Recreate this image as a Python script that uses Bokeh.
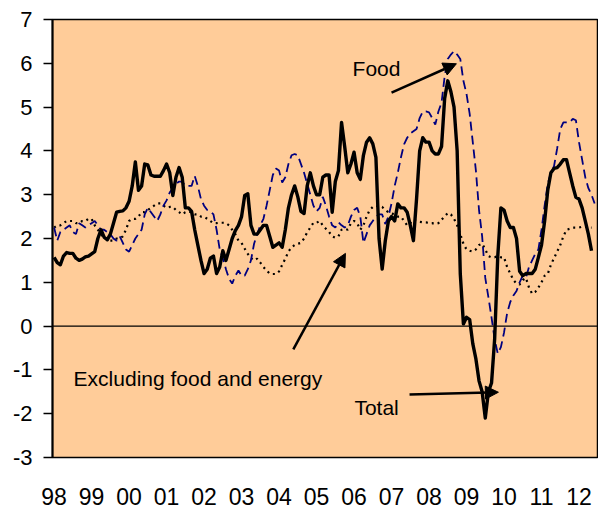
from bokeh.plotting import figure
from bokeh.models import Range1d, FixedTicker, Span, Label, Arrow, NormalHead
from bokeh.embed import file_html
from bokeh.resources import INLINE

# ---- data (monthly, starting January 1998) ----
start_year = 1998
year_ticks = list(range(1998, 2013))
year_labels = ["98", "99", "00", "01", "02", "03", "04", "05", "06", "07", "08", "09", "10", "11", "12"]
y_ticks = list(range(-3, 8))
y_labels = ["-3", "-2", "-1", "0", "1", "2", "3", "4", "5", "6", "7"]

total = [1.57, 1.45, 1.4, 1.6, 1.68, 1.66, 1.66, 1.55, 1.5, 1.53, 1.58, 1.6,
         1.65, 1.7, 2.0, 2.2, 2.03, 1.97, 2.1, 2.35, 2.6, 2.62, 2.63, 2.7,
         2.85, 3.2, 3.75, 3.1, 3.2, 3.7, 3.68, 3.45, 3.42, 3.42, 3.42, 3.55,
         3.7, 3.5, 2.98, 3.4, 3.62, 3.4, 2.7, 2.7, 2.62, 2.2, 1.85, 1.5,
         1.2, 1.3, 1.55, 1.6, 1.2, 1.35, 1.72, 1.5, 1.75, 2.0, 2.18, 2.3,
         2.5, 2.98, 3.02, 2.3, 2.1, 2.1, 2.2, 2.3, 2.3, 2.05, 1.8, 1.85,
         1.9, 1.8, 2.2, 2.7, 3.0, 3.2, 2.95, 2.62, 2.57, 3.2, 3.5, 3.2,
         3.0, 3.0, 3.4, 3.45, 3.45, 2.6, 3.3, 3.55, 4.65, 4.1, 3.5, 3.7,
         3.97, 3.5, 3.35, 3.9, 4.2, 4.3, 4.16, 3.85, 2.0, 1.3, 1.95, 2.4,
         2.5, 2.4, 2.79, 2.7, 2.7, 2.6, 2.3, 1.95, 2.9, 4.0, 4.3, 4.2,
         4.2, 4.0, 3.93, 3.93, 4.1, 5.2, 5.6, 5.35, 5.0, 4.0, 1.2, 0.05,
         0.2, 0.15, -0.4, -0.75, -1.25, -1.5, -2.1, -1.5, -1.3, -0.3, 1.6, 2.7,
         2.65, 2.4, 2.25, 2.25, 2.0, 1.25, 1.15, 1.2, 1.2, 1.2, 1.3, 1.57,
         1.85, 2.4, 3.1, 3.5, 3.6, 3.62, 3.7, 3.8, 3.8, 3.5, 3.2, 2.94,
         2.9, 2.7, 2.4, 2.1, 1.72]

food = [2.25, 1.95, 2.15, 2.2, 2.25, 2.3, 2.15, 2.1, 2.35, 2.3, 2.25, 2.3,
        2.35, 2.4, 2.3, 2.2, 2.2, 2.15, 2.1, 2.0, 1.95, 2.05, 1.9, 1.75,
        1.7, 1.85, 2.0, 2.1, 2.2, 2.55, 2.7, 2.6, 2.5, 2.4, 2.55, 2.75,
        2.87, 3.05, 3.15, 3.25, 3.3, 3.3, 3.2, 3.2, 3.2, 3.43, 3.2, 2.9,
        2.75, 2.65, 2.62, 2.55, 2.2, 1.75, 1.55, 1.3, 1.08, 0.97, 1.15, 1.27,
        1.15, 1.15, 1.3, 1.5, 1.88, 2.1, 2.3, 2.45, 2.75, 3.1, 3.45, 3.6,
        3.55, 3.28, 3.4, 3.7, 3.9, 3.93, 3.9, 3.7, 3.5, 3.25, 3.0, 2.75,
        2.62, 2.7, 2.95, 2.75, 2.5, 2.3, 2.25, 2.37, 2.3, 2.25, 2.3, 2.5,
        2.65, 2.7, 2.5, 1.9, 2.1, 2.3, 2.4, 2.5, 2.55, 2.55, 2.33, 2.5,
        2.8, 3.2, 3.5, 3.85, 4.15, 4.3, 4.4, 4.45, 4.5, 4.75, 4.9, 4.9,
        4.88, 4.75, 4.6, 4.9, 5.1, 5.7, 6.1, 6.2, 6.28, 6.2, 6.1, 5.6,
        5.3, 4.85, 4.2, 3.55, 2.65, 2.05, 1.1, 0.66, 0.2, -0.3, -0.63, -0.48,
        -0.15, 0.3, 0.55, 0.7, 0.8, 1.0, 1.15, 1.1, 1.35, 1.5, 1.65, 1.75,
        2.2, 2.75, 3.25, 3.5, 3.65, 4.05, 4.5, 4.65, 4.65, 4.65, 4.73, 4.7,
        4.2, 3.8, 3.4, 3.15, 3.0, 2.8]

core = [2.25, 2.3, 2.3, 2.35, 2.4, 2.4, 2.4, 2.35, 2.35, 2.4, 2.4, 2.45,
        2.45, 2.3, 2.2, 2.1, 2.0, 2.0, 1.95, 1.95, 2.0, 2.0, 2.05, 2.2,
        2.4, 2.45, 2.45, 2.5, 2.6, 2.6, 2.65, 2.7, 2.75, 2.8, 2.8, 2.75,
        2.7, 2.72, 2.72, 2.65, 2.6, 2.55, 2.6, 2.62, 2.6, 2.55, 2.55, 2.5,
        2.5, 2.45, 2.4, 2.35, 2.35, 2.36, 2.36, 2.35, 2.3, 2.2, 2.1, 1.95,
        1.9, 1.77, 1.65, 1.55, 1.5, 1.54, 1.45, 1.35, 1.27, 1.2, 1.19, 1.19,
        1.25, 1.4, 1.54, 1.7, 1.8, 1.85, 1.88, 1.9, 2.0, 2.14, 2.25, 2.36,
        2.36, 2.4, 2.3, 2.22, 2.15, 2.05, 2.02, 2.05, 2.2, 2.22, 2.2, 2.35,
        2.4, 2.35, 2.2, 2.3, 2.5, 2.65, 2.72, 2.75, 2.72, 2.72, 2.65, 2.6,
        2.57, 2.55, 2.5, 2.5, 2.4, 2.3, 2.35, 2.43, 2.4, 2.38, 2.37, 2.37,
        2.35, 2.35, 2.33, 2.35, 2.43, 2.5, 2.58, 2.55, 2.45, 2.3, 2.1, 1.88,
        1.75, 1.72, 1.7, 1.75, 1.85, 1.88, 1.75, 1.6, 1.57, 1.57, 1.6, 1.57,
        1.57, 1.35, 1.2, 1.05, 0.97, 0.95, 1.05, 1.1, 0.88, 0.74, 0.78, 0.88,
        1.0, 1.15, 1.19, 1.4, 1.55, 1.7, 1.85, 2.05, 2.2, 2.22, 2.25, 2.25,
        2.25, 2.27, 2.27, 2.25, 2.25]


def months_to_x(series):
    return [start_year + i / 12 for i in range(len(series))]


FONT = "Liberation Sans"

p = figure(width=598, height=508, output_backend="svg", toolbar_location=None,
           x_range=Range1d(1997.957, 2012.52), y_range=Range1d(-3, 7),
           min_border_left=52, min_border_right=0, min_border_top=19,
           min_border_bottom=51)
p.background_fill_color = "#FFCC99"
p.border_fill_color = "white"
p.outline_line_color = "black"
p.outline_line_width = 1.5
p.grid.visible = False

# y axis
p.yaxis.ticker = FixedTicker(ticks=y_ticks)
p.yaxis.major_label_overrides = {t: lab for t, lab in zip(y_ticks, y_labels)}
p.yaxis.major_tick_out = 9
p.yaxis.major_tick_in = 0
p.yaxis.minor_tick_line_color = None
p.yaxis.axis_line_width = 2
p.yaxis.major_tick_line_width = 1.5
p.yaxis.major_label_standoff = 11
p.yaxis.major_label_text_font = FONT
p.yaxis.major_label_text_font_size = "22px"
p.yaxis.major_label_text_color = "black"

# x axis
p.xaxis.ticker = FixedTicker(ticks=year_ticks)
p.xaxis.major_label_overrides = {y: lab for y, lab in zip(year_ticks, year_labels)}
p.xaxis.axis_line_color = None
p.xaxis.major_tick_line_color = None
p.xaxis.minor_tick_line_color = None
p.xaxis.major_label_standoff = 24
p.xaxis.major_label_text_font = FONT
p.xaxis.major_label_text_font_size = "23px"
p.xaxis.major_label_text_color = "black"

p.add_layout(Span(location=0, dimension="width", line_color="black", line_width=1.3))

p.line(months_to_x(core), core, line_color="black", line_width=2.2, line_dash="2 4")
p.line(months_to_x(food), food, line_color="#000080", line_width=1.8, line_dash="9 5")
p.line(months_to_x(total), total, line_color="black", line_width=3.4, line_join="round")

# annotations
for txt, x, y in [("Food", 2005.96, 5.88),
                  ("Excluding food and energy", 1998.52, -1.20),
                  ("Total", 2006.01, -1.86)]:
    p.add_layout(Label(x=x, y=y, text=txt, text_font=FONT, text_font_size="21px",
                       text_baseline="middle", text_align="left", text_color="black"))

for xs, ys, xe, ye in [(2007.0, 5.33, 2008.73, 5.99),
                       (2004.38, -0.53, 2005.77, 1.66),
                       (2007.48, -1.56, 2009.85, -1.51)]:
    p.add_layout(Arrow(end=NormalHead(size=13, fill_color="black", line_color="black"),
                       x_start=xs, y_start=ys, x_end=xe, y_end=ye,
                       line_color="black", line_width=2.5))

open("out.html", "w").write(file_html(p, INLINE))
